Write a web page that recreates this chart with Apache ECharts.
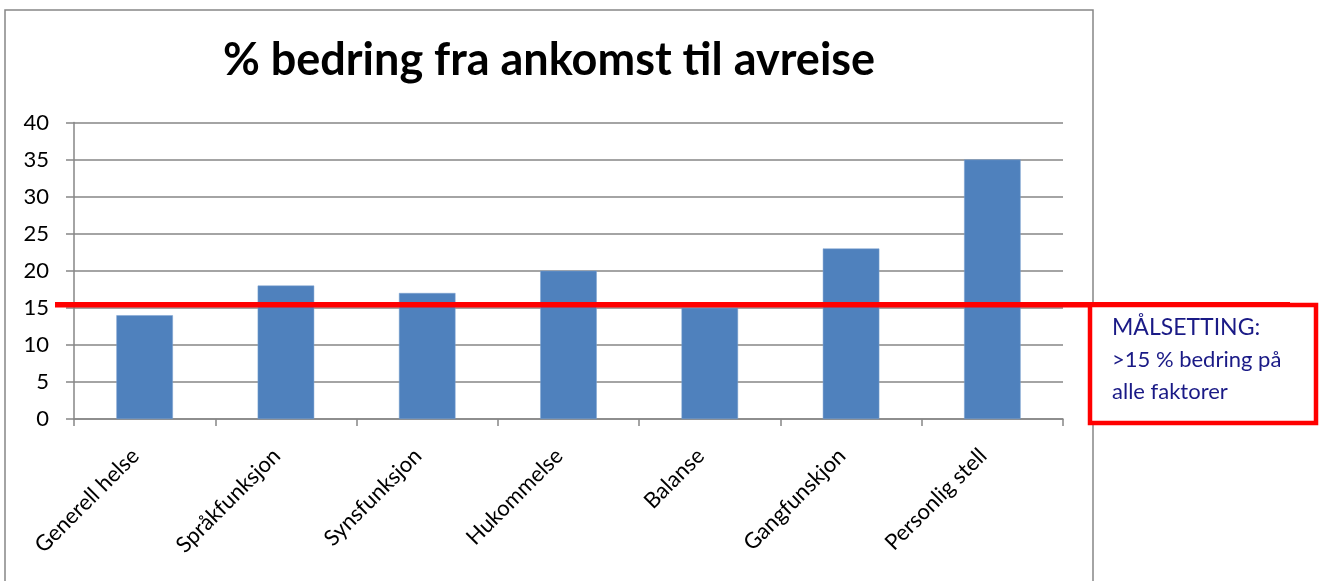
<!DOCTYPE html>
<html>
<head>
<meta charset="utf-8">
<script src="https://cdn.jsdelivr.net/npm/echarts@6/dist/echarts.min.js"></script>
<style>
html,body{margin:0;padding:0;background:#fff;}
#c{width:1320px;height:581px;}
</style>
</head>
<body>
<div id="c"></div>
<script>
const titleText = '% bedring fra ankomst til avreise';
const categories = ['Generell helse','Språkfunksjon','Synsfunksjon','Hukommelse','Balanse','Gangfunskjon','Personlig stell'];
const values = [14, 18, 17, 20, 15, 23, 35];
const yTicks = [0, 5, 10, 15, 20, 25, 30, 35, 40];
const targetValue = 15.4;
const noteLines = ['MÅLSETTING:', '>15 % bedring på', 'alle faktorer'];

const chart = echarts.init(document.getElementById('c'), null, {renderer:'canvas'});
const grey = '#868686';
const option = {
  animation: false,
  backgroundColor: '#fff',
  title: {
    text: titleText,
    left: 544, top: 33, textAlign: 'center',
    textStyle: {fontFamily: 'Lato', fontWeight: 'bold', fontSize: 45, color: '#000'}
  },
  grid: {left: 74, right: 257, top: 122.5, bottom: 162, containLabel: false},
  xAxis: {
    type: 'category', data: categories,
    axisLine: {lineStyle: {color: grey, width: 1.5}},
    axisTick: {show: true, length: 7, lineStyle: {color: grey, width: 1.5}},
    axisLabel: {rotate: 45, margin: 24, interval: 0, padding: [0, 13, 0, 0], fontFamily: 'Lato', fontSize: 22, color: '#000'}
  },
  yAxis: {
    type: 'value', min: yTicks[0], max: yTicks[yTicks.length-1], interval: yTicks[1]-yTicks[0],
    axisLine: {show: true, lineStyle: {color: grey, width: 1.5}},
    axisTick: {show: true, length: 8, lineStyle: {color: grey, width: 1.5}},
    splitLine: {lineStyle: {color: grey, width: 1.5}},
    axisLabel: {margin: 25, fontFamily: 'Lato', fontSize: 22, color: '#000'}
  },
  series: [{
    type: 'bar', data: values, barWidth: '40%',
    itemStyle: {color: '#4F81BD', borderColor: '#7da2d0', borderWidth: 0.5}
  }]
};
chart.setOption(option);

const yT = chart.convertToPixel({yAxisIndex: 0}, targetValue);
chart.setOption({
  graphic: [
    {type: 'rect', shape: {x: 5, y: 10, width: 1088, height: 600}, style: {fill: null, stroke: grey, lineWidth: 1.5}, z: 0, silent: true},
    {type: 'line', shape: {x1: 55, y1: yT, x2: 1290, y2: yT}, style: {stroke: '#FF0000', lineWidth: 5.5}, z: 100},
    {type: 'rect', shape: {x: 1090, y: 305, width: 226, height: 118}, style: {fill: '#fff', stroke: '#FF0000', lineWidth: 4.5}, z: 101},
    {type: 'text', x: 1112, y: 328, style: {text: noteLines[0], fontFamily: 'Lato', fontSize: 23, fill: '#1a1a86', textVerticalAlign: 'middle'}, z: 102},
    {type: 'text', x: 1112, y: 360, style: {text: noteLines[1], fontFamily: 'Lato', fontSize: 22, fill: '#1a1a86', textVerticalAlign: 'middle'}, z: 102},
    {type: 'text', x: 1112, y: 392, style: {text: noteLines[2], fontFamily: 'Lato', fontSize: 22, fill: '#1a1a86', textVerticalAlign: 'middle'}, z: 102}
  ]
});
</script>
</body>
</html>
